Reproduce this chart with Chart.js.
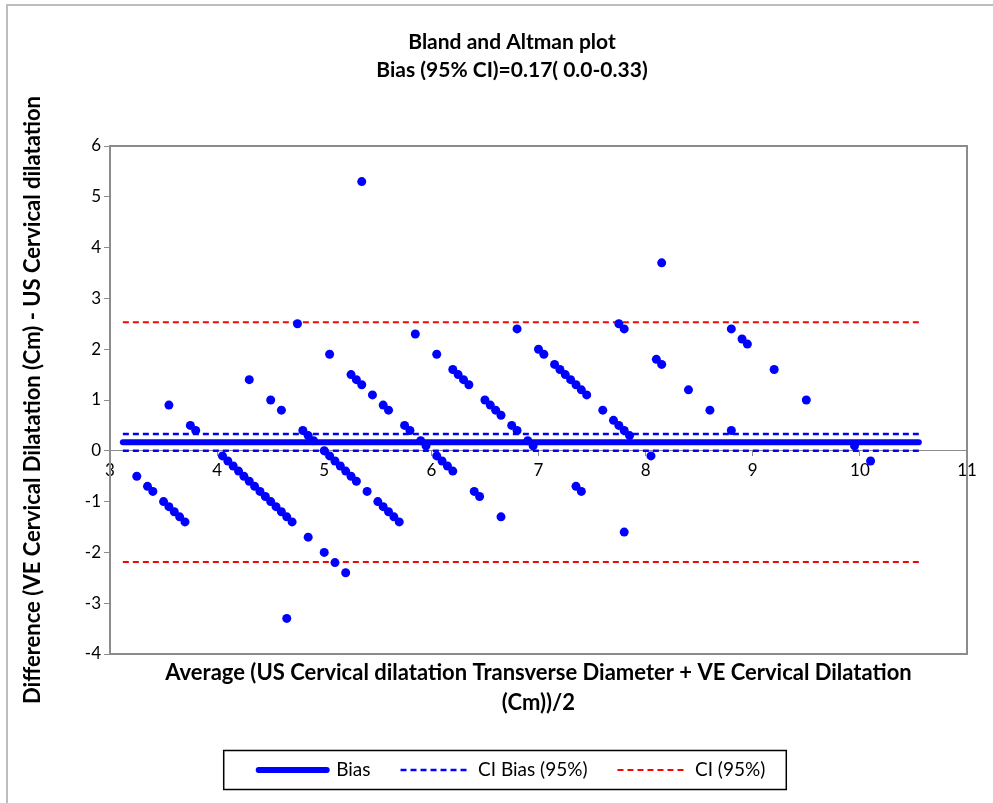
<!DOCTYPE html>
<html>
<head>
<meta charset="utf-8">
<script src="https://cdn.jsdelivr.net/npm/chart.js@4.4.1/dist/chart.umd.min.js"></script>
<style>
  html, body { margin: 0; padding: 0; background: #fff; }
  #wrap { width: 993px; height: 803px; }
</style>
</head>
<body>
<div id="wrap"><canvas id="baChart" width="993" height="803"></canvas></div>
<script>
// averages (x) and differences (y)
const avgValues = [
  3.25, 3.35, 3.40, 3.50, 3.55, 3.60, 3.65, 3.70, 3.55, 3.75, 3.80,
  4.05, 4.10, 4.15, 4.20, 4.25, 4.30, 4.35, 4.40, 4.45, 4.50, 4.55, 4.60, 4.65, 4.70,
  4.30, 4.50, 4.60, 4.75, 4.80, 4.85, 4.90, 4.85, 4.65,
  5.00, 5.05, 5.10, 5.15, 5.20, 5.25, 5.30, 5.40, 5.50, 5.55, 5.60, 5.65, 5.70,
  5.00, 5.10, 5.20, 5.05, 5.25, 5.30, 5.35, 5.45, 5.55, 5.60, 5.75, 5.80, 5.90, 5.95,
  5.35, 5.85, 6.05,
  6.05, 6.10, 6.15, 6.20, 6.20, 6.25, 6.30, 6.35, 6.50, 6.55, 6.60, 6.65,
  6.75, 6.80, 6.90, 6.95, 6.40, 6.45, 6.65, 6.80,
  7.00, 7.05, 7.15, 7.20, 7.25, 7.30, 7.35, 7.40, 7.45, 7.60,
  7.70, 7.75, 7.80, 7.85, 7.35, 7.40, 7.80, 7.75, 7.80,
  8.15, 8.10, 8.15, 8.40, 8.60, 8.80, 8.05, 8.80, 8.90, 8.95,
  9.20, 9.50, 9.95, 10.10
];
const diffValues = [
  -0.5, -0.7, -0.8, -1.0, -1.1, -1.2, -1.3, -1.4, 0.9, 0.5, 0.4,
  -0.1, -0.2, -0.3, -0.4, -0.5, -0.6, -0.7, -0.8, -0.9, -1.0, -1.1, -1.2, -1.3, -1.4,
  1.4, 1.0, 0.8, 2.5, 0.4, 0.3, 0.2, -1.7, -3.3,
  0.0, -0.1, -0.2, -0.3, -0.4, -0.5, -0.6, -0.8, -1.0, -1.1, -1.2, -1.3, -1.4,
  -2.0, -2.2, -2.4, 1.9, 1.5, 1.4, 1.3, 1.1, 0.9, 0.8, 0.5, 0.4, 0.2, 0.1,
  5.3, 2.3, 1.9,
  -0.1, -0.2, -0.3, -0.4, 1.6, 1.5, 1.4, 1.3, 1.0, 0.9, 0.8, 0.7,
  0.5, 0.4, 0.2, 0.1, -0.8, -0.9, -1.3, 2.4,
  2.0, 1.9, 1.7, 1.6, 1.5, 1.4, 1.3, 1.2, 1.1, 0.8,
  0.6, 0.5, 0.4, 0.3, -0.7, -0.8, -1.6, 2.5, 2.4,
  3.7, 1.8, 1.7, 1.2, 0.8, 0.4, -0.1, 2.4, 2.2, 2.1,
  1.6, 1.0, 0.1, -0.2
];

const bias = 0.17;
const ciBias = [0.0, 0.33];
const limits = [-2.19, 2.53];
const lineSpan = [3.12, 10.55];

const xTicks = [3, 4, 5, 6, 7, 8, 9, 10, 11];
const yTicks = [-4, -3, -2, -1, 0, 1, 2, 3, 4, 5, 6];

const BLUE = '#0000ff';
const RED = '#ff0000';
const AXIS = '#8c8c8c';
const FONT = "Lato, 'Open Sans', sans-serif";

function hline(y) {
  return lineSpan.map(x => ({x: x, y: y}));
}

const points = avgValues.map((x, i) => ({x: x, y: diffValues[i]}));

// white page, the cut-off outer frame and the plot-area box
const framePlugin = {
  id: 'frame',
  beforeDraw(chart) {
    const ctx = chart.ctx;
    ctx.save();
    ctx.fillStyle = '#fff';
    ctx.fillRect(0, 0, chart.width, chart.height);
    ctx.strokeStyle = '#bdbdbd';
    ctx.lineWidth = 2;
    ctx.beginPath();
    ctx.moveTo(7, chart.height);
    ctx.lineTo(7, 5);
    ctx.lineTo(chart.width, 5);
    ctx.stroke();
    ctx.restore();
  },
  beforeDatasetsDraw(chart) {
    const a = chart.chartArea;
    const ctx = chart.ctx;
    ctx.save();
    ctx.strokeStyle = AXIS;
    ctx.lineWidth = 2;
    ctx.strokeRect(a.left, a.top, a.right - a.left, a.bottom - a.top);
    ctx.restore();
  },
  afterDraw(chart) {
    // black box round the legend
    const boxes = chart.legend.legendHitBoxes;
    if (!boxes || !boxes.length) return;
    const first = boxes[0];
    const last = boxes[boxes.length - 1];
    const ctx = chart.ctx;
    ctx.save();
    ctx.strokeStyle = '#000';
    ctx.lineWidth = 1.5;
    ctx.strokeRect(first.left - 35, first.top - 10, last.left + last.width + 21 - (first.left - 35), first.height + 20);
    ctx.restore();
  }
};

new Chart(document.getElementById('baChart'), {
  type: 'scatter',
  data: {
    datasets: [
      {
        label: 'Differences',
        data: points,
        pointRadius: 4.5,
        pointHoverRadius: 4.5,
        backgroundColor: BLUE,
        borderWidth: 0,
        showLine: false
      },
      {
        label: 'Bias',
        data: hline(bias),
        showLine: true,
        borderColor: BLUE,
        borderWidth: 6,
        borderCapStyle: 'round',
        pointRadius: 0
      },
      {
        label: 'CI Bias (95%)',
        data: hline(ciBias[1]),
        showLine: true,
        borderColor: BLUE,
        borderWidth: 2.5,
        borderDash: [6, 4],
        pointRadius: 0
      },
      {
        label: 'CI Bias low',
        data: hline(ciBias[0]),
        showLine: true,
        borderColor: BLUE,
        borderWidth: 2.5,
        borderDash: [6, 4],
        pointRadius: 0
      },
      {
        label: 'CI (95%)',
        data: hline(limits[1]),
        showLine: true,
        borderColor: RED,
        borderWidth: 2,
        borderDash: [6, 4],
        pointRadius: 0
      },
      {
        label: 'CI low',
        data: hline(limits[0]),
        showLine: true,
        borderColor: RED,
        borderWidth: 2,
        borderDash: [6, 4],
        pointRadius: 0
      }
    ]
  },
  options: {
    responsive: false,
    animation: false,
    devicePixelRatio: 1,
    layout: {padding: {left: 31, right: 0, top: 0, bottom: 13.5}},
    plugins: {
      tooltip: {enabled: false},
      title: {
        display: true,
        text: ['Bland and Altman plot', 'Bias (95% CI)=0.17( 0.0-0.33)'],
        color: '#000',
        font: {family: FONT, size: 21, weight: 'bold', lineHeight: '28px'},
        padding: {top: 28, bottom: 62}
      },
      legend: {
        position: 'bottom',
        labels: {
          color: '#000',
          font: {family: FONT, size: 19},
          usePointStyle: true,
          pointStyleWidth: 68,
          padding: 30,
          generateLabels() {
            return [
              {text: 'Bias', strokeStyle: BLUE, fillStyle: BLUE, lineWidth: 6, lineCap: 'round', lineDash: [], pointStyle: 'line', datasetIndex: 1, hidden: false},
              {text: 'CI Bias (95%)', strokeStyle: BLUE, fillStyle: BLUE, lineWidth: 2.5, lineDash: [6, 4], pointStyle: 'line', datasetIndex: 2, hidden: false},
              {text: 'CI (95%)', strokeStyle: RED, fillStyle: RED, lineWidth: 2, lineDash: [6, 4], pointStyle: 'line', datasetIndex: 4, hidden: false}
            ];
          }
        }
      }
    },
    scales: {
      x: {
        type: 'linear',
        position: {y: 0},
        min: xTicks[0],
        max: xTicks[xTicks.length - 1],
        afterBuildTicks(s) { s.ticks = xTicks.map(v => ({value: v})); },
        ticks: {color: '#000', font: {family: FONT, size: 17}, padding: 5},
        grid: {drawOnChartArea: false, color: AXIS, tickLength: 5},
        border: {color: AXIS, width: 1}
      },
      x2: {
        type: 'linear',
        position: 'bottom',
        min: xTicks[0],
        max: xTicks[xTicks.length - 1],
        ticks: {display: false},
        grid: {display: false},
        border: {display: false},
        title: {
          display: true,
          text: ['Average (US Cervical dilatation Transverse Diameter + VE Cervical Dilatation', '(Cm))/2'],
          color: '#000',
          font: {family: FONT, size: 22, weight: 'bold', lineHeight: '30px'},
          padding: {top: 0, bottom: 12.5}
        },
        afterFit(s) { s.height = 76.5; }
      },
      y: {
        type: 'linear',
        position: 'left',
        min: yTicks[0],
        max: yTicks[yTicks.length - 1],
        afterBuildTicks(s) { s.ticks = yTicks.map(v => ({value: v})); },
        ticks: {color: '#000', font: {family: FONT, size: 17}, padding: 3},
        grid: {drawOnChartArea: false, color: AXIS, tickLength: 6},
        border: {color: AXIS, width: 2},
        title: {
          display: true,
          text: 'Difference (VE Cervical Dilatation (Cm) - US Cervical dilatation',
          color: '#000',
          font: {family: FONT, size: 22, weight: 'bold', lineHeight: 1.2},
          padding: {top: -11, bottom: 0}
        },
        afterFit(s) { s.width = 79; }
      },
      y2: {
        type: 'linear',
        position: 'right',
        min: yTicks[0],
        max: yTicks[yTicks.length - 1],
        ticks: {display: false},
        grid: {display: false},
        border: {display: false},
        afterFit(s) { s.width = 26; }
      }
    }
  },
  plugins: [framePlugin]
});
</script>
</body>
</html>
